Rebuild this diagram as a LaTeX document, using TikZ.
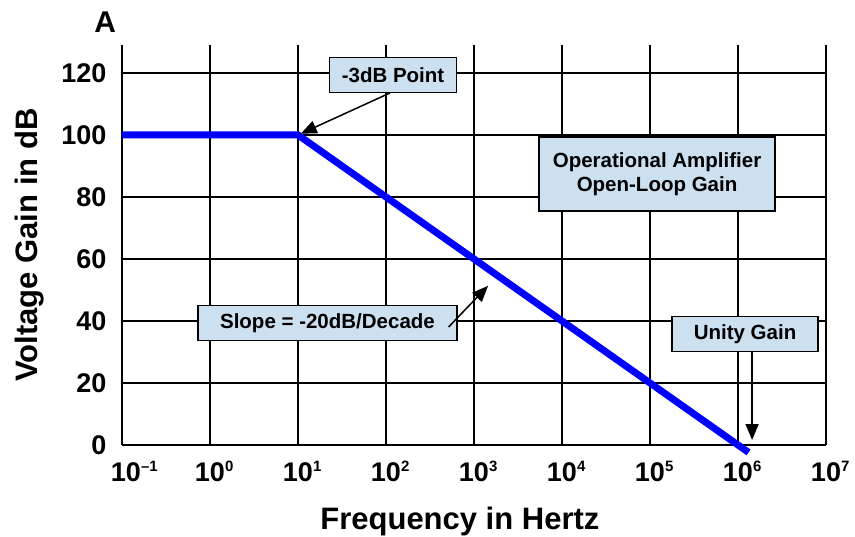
\documentclass[tikz,border=0pt]{standalone}
\usepackage{fontspec}
\setmainfont{Liberation Sans}
\usepackage{tikz}
\usetikzlibrary{positioning}
\usetikzlibrary{arrows.meta}

\definecolor{notefill}{HTML}{CCE0F0}

\begin{document}
\begin{tikzpicture}[x=88pt,y=3.1pt,
                    every node/.style={font=\bfseries},
                    pointer/.style={-{Triangle[length=16pt,width=13pt]},line width=1.5pt},
                    gridline/.style={line width=1.8pt},
                    gainline/.style={line width=7pt,blue},
                    note/.style={draw,line width=1.2pt,fill=notefill,
                                 inner xsep=12pt,minimum height=35pt,
                                 font=\bfseries\fontsize{20.5}{24}\selectfont},
                    ticklbl/.style={font=\bfseries\fontsize{27}{30}\selectfont},
                    axistitle/.style={font=\bfseries\fontsize{31}{34}\selectfont}]
   \useasboundingbox (-122pt,-92pt) rectangle (733pt,445pt);
   % grid
   \foreach \x in {0,...,8}
      \draw[gridline] (\x,0) -- (\x,129);
   \foreach \y in {0,20,...,120}
      \draw[gridline] (0,\y) -- (8,\y);
   % tick labels
   \foreach \y in {0,20,...,120}
      \node[ticklbl,anchor=east] (y\y) at ([xshift=-12pt]0,\y) {\y};
   \foreach \e/\s [count=\x from 0] in {–1/4pt,0/0pt,1/0pt,2/0pt,3/0pt,4/0pt,5/0pt,6/0pt,7/0pt}
      \node[ticklbl,anchor=base,inner xsep=0pt] (x\x) at ([xshift=\s]\x,-11.9)
         {10\rlap{\raisebox{10pt}{\fontsize{15}{15}\selectfont\e}}};
   \node[axistitle,anchor=base] (xtitle) at (3.84,-27.4) {Frequency in Hertz};
   \node[axistitle,rotate=90] (ytitle) at ([xshift=-92pt]0,64.5) {Voltage Gain in dB};
   \node[font=\bfseries\fontsize{30}{32}\selectfont] (panel) at (-0.19,136.5) {A};
   % gain curve
   \draw[gainline] (0,100) -- (2,100) -- (7.12,-2.4);
   \coordinate (knee) at (2,100);
   \coordinate (midslope) at (4.27,54.6);
   \coordinate (zero) at (7.16,1.6);
   % notes
   \node[note] (threedb) at (3.08,119.4) {-3dB Point};
   \node[note,minimum width=236pt,minimum height=74pt,align=center]
        (opamp) at (6.08,87.4) {Operational Amplifier\\Open-Loop Gain};
   \node[note,minimum width=259pt] (slope) at (2.335,39.35) {Slope = -20dB/Decade};
   \node[note,minimum width=146pt] (unity) at (7.08,35.8) {Unity Gain};
   \draw[pointer,shorten >=3pt] ([xshift=-3pt]threedb.south) -- (knee);
   \draw[pointer,shorten >=14pt] ([xshift=-9pt,yshift=-4pt]slope.east) -- (midslope);
   \draw[pointer] (unity.south -| zero) -- (zero);
\end{tikzpicture}
\end{document}
